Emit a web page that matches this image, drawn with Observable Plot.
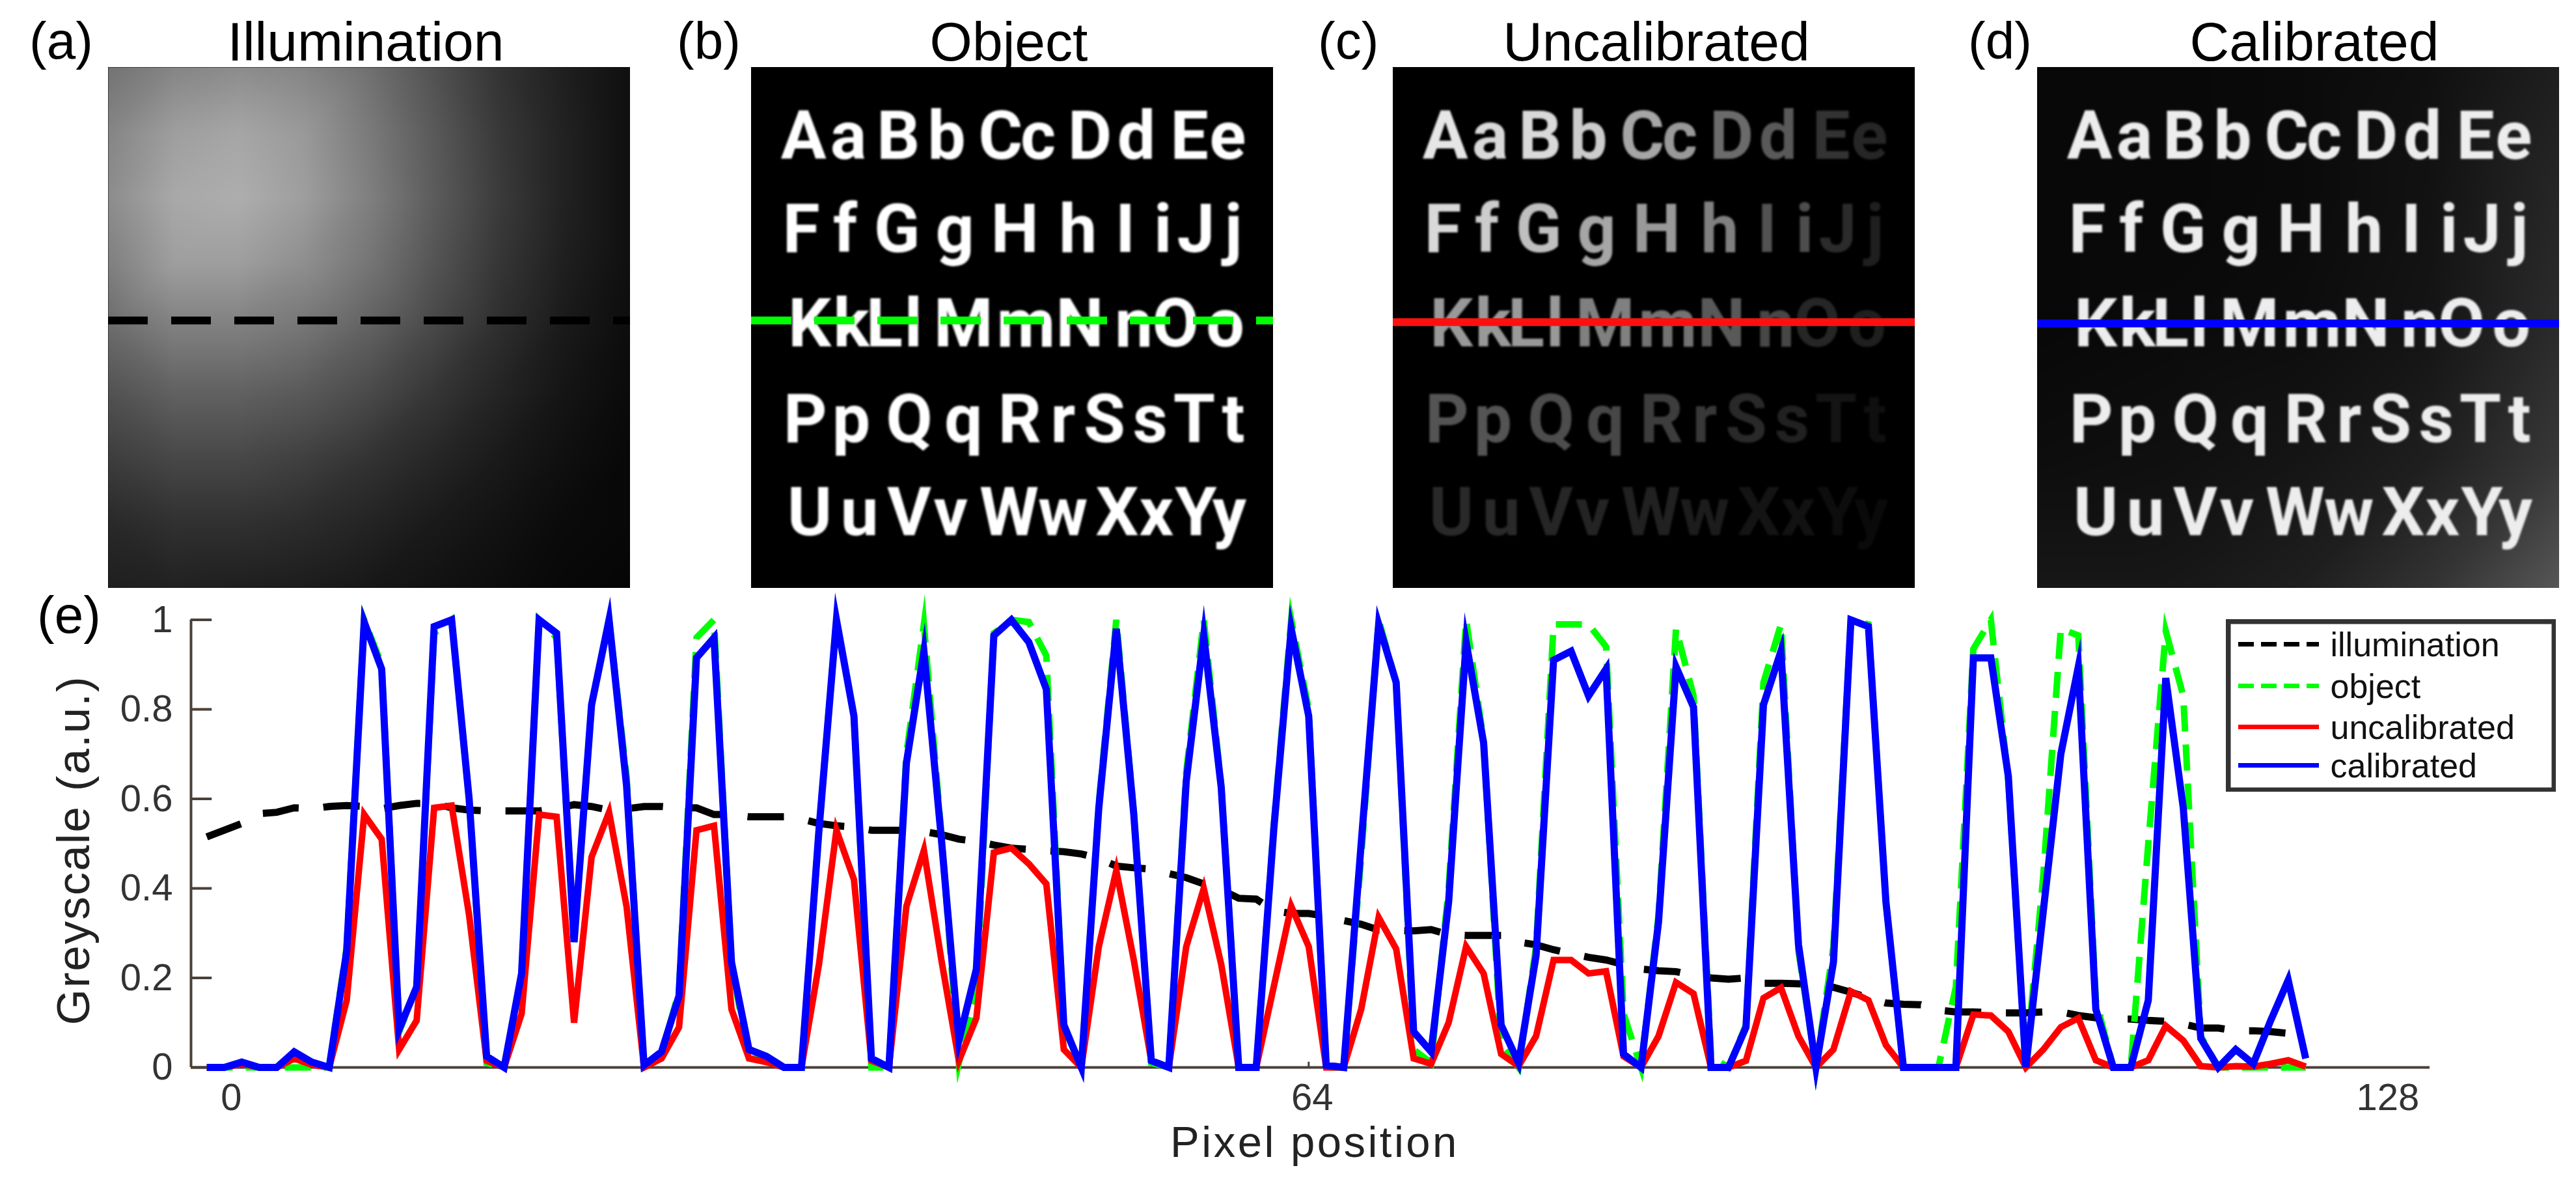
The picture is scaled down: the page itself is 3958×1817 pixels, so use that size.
<!DOCTYPE html>
<html><head><meta charset="utf-8">
<script src="https://cdn.jsdelivr.net/npm/d3@7"></script>
<script src="https://cdn.jsdelivr.net/npm/@observablehq/plot@0.6"></script>
<style>
html,body{margin:0;padding:0;background:#fff;overflow:hidden}
#page{position:relative;width:3958px;height:1817px;font-family:"Liberation Sans",Arial,sans-serif;color:#000}
#page>svg{position:absolute}
.t{position:absolute;line-height:1;white-space:nowrap}
</style></head><body><div id="page"></div>
<script>
// Line profile values, one value per plotted sample
const illumination = [
.515,.53,.545,.567,.57,.58,.578,.583,.585,.583,
.578,.585,.59,.59,.58,.575,.573,.573,.573,.573,
.578,.587,.583,.575,.578,.583,.583,.58,.58,.565,
.565,.56,.56,.56,.555,.545,.54,.537,.53,.53,
.53,.527,.52,.51,.505,.497,.49,.487,.484,.482,
.477,.467,.45,.446,.443,.433,.424,.41,.397,.378,
.376,.35,.344,.344,.338,.328,.32,.307,.306,.305,
.308,.297,.295,.295,.295,.28,.274,.263,.254,.246,
.24,.23,.22,.216,.214,.206,.2,.197,.2,.188,
.188,.187,.184,.179,.168,.155,.144,.141,.14,.128,
.124,.124,.122,.122,.122,.124,.124,.116,.111,.108,
.108,.105,.103,.097,.088,.088,.082,.082,.08,.076,
.07];
const object = [
0,0,0,0,0,0,0,0,.27,1,
.9,.08,.18,.97,1,.6,.01,0,.21,1,
.96,.28,.81,1,.65,0,.03,.17,.96,1,
.23,.02,.02,0,0,.53,1,.785,0,0,
.7,.99,.52,.01,.17,.97,1,.995,.92,.09,
0,.59,1,.57,.01,0,.66,1,.63,0,
0,.54,1,.8,0,0,.47,1,.86,.04,
.01,.4,1,.73,.05,0,.27,.99,.99,.99,
.94,.12,0,.34,.98,.83,.025,0,.095,.86,
.99,.26,0,.27,1,.99,.37,0,0,0,
.18,.935,1,.64,0,.43,.98,.965,.15,0,
0,.5,.975,.83,.07,0,0,0,0,0,
0];
const uncalibrated = [
0,0,.008,0,0,.02,.006,0,.15,.565,
.51,.04,.105,.58,.585,.34,.015,0,.12,.565,
.56,.1,.47,.57,.36,0,.02,.09,.53,.54,
.13,.02,.012,0,0,.23,.53,.42,.015,0,
.36,.485,.24,.015,.11,.48,.49,.455,.41,.04,
0,.27,.44,.24,.015,0,.27,.4,.23,0,
0,.18,.36,.27,0,0,.13,.335,.265,.02,
.008,.1,.27,.21,.03,.003,.07,.24,.24,.21,
.215,.025,0,.07,.19,.165,0,0,.015,.155,
.178,.07,0,.04,.17,.15,.05,0,0,0,
0,.118,.116,.08,0,.04,.09,.11,.016,0,
0,.016,.093,.06,.003,0,.003,.002,.008,.016,
.002];
const calibrated = [
0,0,.012,0,0,.035,.012,0,.26,.995,
.89,.085,.18,.985,1,.6,.025,0,.21,1,
.97,.28,.81,1,.63,.005,.035,.16,.915,.96,
.235,.04,.025,0,0,.53,1,.785,.02,0,
.68,.93,.51,.06,.22,.965,1,.95,.845,.095,
0,.58,.98,.565,.015,0,.64,.965,.625,0,
0,.53,.98,.785,.005,0,.5,.99,.86,.08,
.035,.37,.95,.725,.095,.01,.25,.91,.93,.83,
.89,.03,0,.325,.895,.805,0,0,.09,.81,
.93,.275,0,.235,1,.985,.37,0,0,0,
0,.915,.915,.65,0,.35,.7,.895,.13,0,
0,.15,.87,.58,.065,0,.04,.008,.105,.195,
.02];
const yTicks = [0,.2,.4,.6,.8,1];
const xTickLabels = ["0","64","128"];
const xTickLabelAt = [2.4,64.2,125.7];

// Letter chart: rows, letter centres (image pixels), baselines
const rowLetters = ["AaBbCcDdEe","FfGgHhIiJj","KkLlMmNnOo","PpQqRrSsTt","UuVvWwXxYy"];
const rowBaselines = [22.4,45.4,68.5,92,114.9];
const rowCentres = [
 [12.8,23.8,36,47.9,61.1,70.3,83,94.4,107.4,116.8],
 [12.2,23,35.7,49.9,64.6,80.1,91.7,100.9,109,118.2],
 [14.3,24.5,32.6,39.7,52,67.3,80.5,93.8,104,116.2],
 [13.2,24.5,38.7,52,65.8,76.4,86.6,97.8,108.6,118.2],
 [14.3,26.5,38.7,48.9,63.2,76.4,89.7,99.3,109,117.2]];
// Brightness of each letter in panel (c)
const uncalibratedBrightness = [
 [.9,.85,.85,.8,.65,.6,.42,.35,.2,.15],
 [.85,.8,.75,.65,.6,.5,.32,.3,.17,.12],
 [.6,.6,.6,.6,.5,.45,.35,.28,.15,.12],
 [.33,.33,.3,.28,.24,.22,.16,.13,.08,.06],
 [.16,.16,.15,.14,.13,.11,.08,.07,.05,.04]];
// Mean brightness of panel (a), sampled by eye on a 9×9 grid
const illumGrid = [
 [.45,.52,.55,.52,.44,.32,.2,.12,.06],
 [.52,.62,.65,.6,.48,.35,.22,.13,.06],
 [.55,.66,.68,.62,.5,.36,.23,.13,.06],
 [.5,.62,.62,.56,.46,.33,.21,.12,.06],
 [.42,.5,.5,.46,.38,.28,.18,.1,.05],
 [.32,.38,.38,.35,.29,.21,.14,.08,.04],
 [.24,.28,.28,.25,.2,.15,.1,.06,.03],
 [.16,.19,.19,.17,.14,.1,.07,.04,.03],
 [.12,.13,.12,.11,.09,.07,.05,.03,.02]];
// Mean brightness of the background speckle in panel (d), 5×5 grid
const speckleGrid = [
 [.03,.03,.04,.06,.12],
 [.03,.03,.04,.07,.15],
 [.03,.04,.05,.08,.17],
 [.05,.06,.08,.12,.22],
 [.09,.09,.12,.2,.34]];
const legendNames = ["illumination","object","uncalibrated","calibrated"];
const legendRows = [38,102,165,224];
const legendColors = ["#000","#00ff00","#ff0000","#0000ff"];
const legendDashes = ["24 11","24 11",null,null];

const page = document.getElementById("page");
const put = (node,l,t)=>{node.style.left=l+"px";node.style.top=t+"px";node.style.position="absolute";page.appendChild(node);return node;};
const label = (s,x,base,size,align="left",extra="")=>{
  const d=document.createElement("div");d.className="t";d.textContent=s;
  d.style.cssText=`left:${x}px;top:${base-.8465*size}px;font-size:${size}px;${align==="center"?"transform:translateX(-50%);":""}${extra}`;
  page.appendChild(d);
};

const gridCells = g => g.flatMap((row,j)=>row.map((v,i)=>({x:i/(row.length-1)*128,y:j/(g.length-1)*128,v})));
const letters = (bright) => rowLetters.flatMap((r,j)=>[...r].map((c,i)=>({c,x:rowCentres[j][i],y:rowBaselines[j],v:bright?bright[j][i]:1})));

function panel({left,top=103,w=802,h=800,grid,pixelBright,letterValue,line,dash,lineY}){
  const marks=[];
  marks.push(Plot.rect([{}],{x1:0,x2:128,y1:0,y2:128,fill:"#000"}));
  if(grid) marks.push(Plot.raster(gridCells(grid),{x:"x",y:"y",fill:"v",interpolate:"barycentric",pixelSize:2,x1:0,x2:128,y1:0,y2:128}));
  if(letterValue!==undefined){
    marks.push(Plot.text(letters(pixelBright).map(d=>({...d,v:pixelBright?d.v:letterValue})),{
      x:"x",y:"y",text:"c",fill:d=>{const g=Math.round(255*d.v);return `rgb(${g},${g},${g})`;},
      fontFamily:"Roboto",fontWeight:700,fontSize:104,lineAnchor:"bottom"}));
  }
  marks.push(Plot.ruleY([lineY],{x1:0,x2:128,stroke:line,strokeWidth:12,strokeDasharray:dash}));
  const p=Plot.plot({width:w,height:h,margin:0,
    x:{domain:[0,128],axis:null},y:{domain:[0,128],axis:null,reverse:true},
    color:{type:"linear",domain:[0,1],range:["#000","#fff"]},
    style:{background:"transparent"},marks});
  d3.select(p).selectAll('g[aria-label="text"]').style("filter","blur(1.6px)");
  put(p,left,top);
}
panel({left:166,grid:illumGrid,line:"#000",dash:"61 36",lineY:62.2});
panel({left:1154,letterValue:1,line:"#00ff00",dash:"62 35",lineY:62.2});
panel({left:2140,letterValue:1,pixelBright:uncalibratedBrightness,line:"#ff1010",lineY:62.6});
panel({left:3130,grid:speckleGrid,letterValue:.93,line:"#0000ff",lineY:62.9});

const series=(arr)=>arr.map((v,i)=>({x:i+1,v}));
const lineOpts={x:"x",y:"v",strokeLinejoin:"miter",strokeMiterlimit:10,strokeLinecap:"butt"};
const axisColor="#4a4038", tickText="#333";
const main=Plot.plot({width:3958,height:1817,marginLeft:293,marginRight:225,marginTop:951.5,marginBottom:178,
  x:{domain:[.1,128.1],axis:null},y:{domain:[0,1],axis:null},
  style:{background:"transparent",fontFamily:"Liberation Sans, Arial, sans-serif"},
  marks:[
    Plot.ruleY([0],{x1:.1,x2:128.1,stroke:axisColor,strokeWidth:4}),
    Plot.ruleX([.1],{y1:0,y2:1,stroke:axisColor,strokeWidth:4}),
    Plot.ruleY(yTicks,{y:d=>d,x1:.1,x2:1.3,stroke:axisColor,strokeWidth:4}),
    Plot.ruleX([64],{y1:0,y2:.012,stroke:axisColor,strokeWidth:3}),
    Plot.text(yTicks,{y:d=>d,x:.1,dx:-28,text:d=>(d===0||d===1)?String(d):d.toFixed(1),textAnchor:"end",fontSize:58,fill:tickText}),
    Plot.text(xTickLabels.map((t,i)=>({t,x:xTickLabelAt[i]})),{x:"x",y:0,dy:47,text:"t",fontSize:58,fill:tickText}),
    Plot.line(series(illumination),{...lineOpts,stroke:"#000",strokeWidth:11,strokeDasharray:"56 38"}),
    Plot.line(series(object),{...lineOpts,stroke:"#00ff00",strokeWidth:10,strokeDasharray:"40 20"}),
    Plot.line(series(uncalibrated),{...lineOpts,stroke:"#ff0000",strokeWidth:10}),
    Plot.line(series(calibrated),{...lineOpts,stroke:"#0000ff",strokeWidth:11})
  ]});
put(main,0,0);

// Legend, inset in panel (e)
const leg=Plot.plot({width:507,height:265,margin:0,
  x:{domain:[0,507],axis:null},y:{domain:[265,0],axis:null},
  style:{background:"#fff",fontFamily:"Liberation Sans, Arial, sans-serif"},
  marks:[
    Plot.frame({stroke:"#333",strokeWidth:14}),
    ...legendNames.map((n,i)=>Plot.ruleY([legendRows[i]],{x1:19,x2:143,stroke:legendColors[i],strokeWidth:7,strokeDasharray:legendDashes[i]})),
    Plot.text(legendNames,{y:(d,i)=>legendRows[i],x:160,dy:2,text:d=>d,textAnchor:"start",fontSize:52,fill:"#111"})
  ]});
put(leg,3420,951);

// Titles and panel letters
[["Illumination",562],["Object",1550],["Uncalibrated",2545],["Calibrated",3556]].forEach(([s,x])=>label(s,x,93,84,"center"));
[["(a)",45],["(b)",1040],["(c)",2025],["(d)",3024]].forEach(([s,x])=>label(s,x,91,80));
label("(e)",57,973,80);
label("Pixel position",2020,1777,67,"center","letter-spacing:3.5px;color:#222;");
const yt=document.createElement("div");yt.className="t";yt.textContent="Greyscale (a.u.)";
yt.style.cssText="left:0;top:0;font-size:71px;letter-spacing:2px;color:#222;transform:translate(137px,1306px) rotate(-90deg) translate(-50%,-.8465em);transform-origin:0 0;";
page.appendChild(yt);
</script></body></html>
